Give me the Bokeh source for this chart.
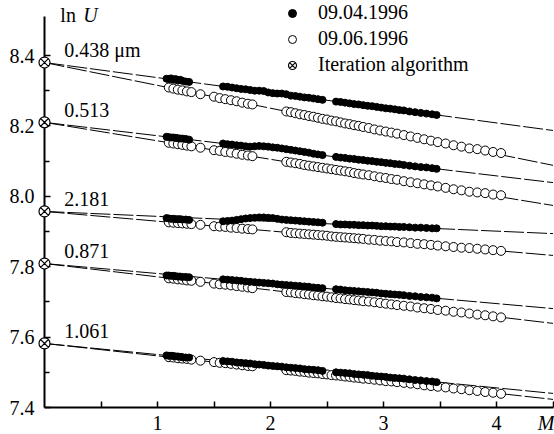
from bokeh.plotting import figure
from bokeh.models import (ColumnDataSource, FixedTicker, PrintfTickFormatter, Label,
                          LabelSet, Legend, LegendItem, Range1d)
from bokeh.core.properties import value
from bokeh.embed import file_html
from bokeh.resources import INLINE

# ---------------- data ----------------
wavelength_labels = ["0.438 \u03bcm", "0.513", "2.181", "0.871", "1.061"]
iteration_lnU = [8.380, 8.210, 7.957, 7.809, 7.582]      # Iteration algorithm (M = 0)
fit_M = [0.0, 4.5]
fit_end_apr = [8.187, 8.039, 7.894, 7.681, 7.440]       # fit line end (09.04.1996)
fit_end_jun = [8.088, 7.974, 7.832, 7.639, 7.423]       # fit line end (09.06.1996)

M_apr = [1.08, 1.10, 1.12, 1.14, 1.16, 1.18, 1.20, 1.22, 1.25, 1.28,
         1.58, 1.62, 1.66, 1.70, 1.74, 1.78, 1.82, 1.86, 1.90, 1.94, 1.98, 2.02, 2.06, 2.10,
         2.14, 2.18, 2.22, 2.26, 2.30, 2.34, 2.38, 2.42, 2.46,
         2.58, 2.62, 2.66, 2.70, 2.74, 2.78, 2.82, 2.86, 2.90, 2.94, 2.98, 3.02, 3.06, 3.10,
         3.14, 3.18, 3.23, 3.28, 3.33, 3.38, 3.43, 3.47]
M_jun = [1.10, 1.14, 1.18, 1.22, 1.26, 1.30, 1.38,
         1.50, 1.55, 1.60, 1.65, 1.70, 1.75, 1.80, 1.84,
         2.14, 2.18, 2.22, 2.26, 2.30, 2.34, 2.38, 2.42, 2.46, 2.50, 2.54, 2.58, 2.62, 2.66,
         2.70, 2.74, 2.78, 2.82, 2.87, 2.92, 2.97, 3.02, 3.07, 3.12, 3.18, 3.24, 3.30, 3.36,
         3.42, 3.48, 3.55, 3.62, 3.69, 3.76, 3.83, 3.90, 3.97, 4.04]

apr_0438 = [8.334, 8.333, 8.335, 8.331, 8.333, 8.329, 8.331, 8.328, 8.326, 8.325,
            8.312, 8.311, 8.309, 8.307, 8.305, 8.304, 8.302, 8.300, 8.300, 8.299, 8.295, 8.293,
            8.292, 8.292, 8.290, 8.286, 8.285, 8.283, 8.281, 8.280, 8.278, 8.276, 8.274,
            8.269, 8.268, 8.266, 8.264, 8.262, 8.261, 8.259, 8.257, 8.256, 8.254, 8.252, 8.250,
            8.249, 8.247, 8.245, 8.244, 8.241, 8.239, 8.237, 8.235, 8.233, 8.231]
jun_0438 = [8.309, 8.306, 8.303, 8.301, 8.298, 8.296, 8.290,
            8.283, 8.279, 8.276, 8.273, 8.270, 8.266, 8.263, 8.261,
            8.241, 8.239, 8.236, 8.233, 8.231, 8.228, 8.226, 8.223, 8.220, 8.218, 8.215, 8.213,
            8.210, 8.207, 8.205, 8.202, 8.200, 8.197, 8.194, 8.190, 8.187, 8.184, 8.181, 8.178,
            8.174, 8.170, 8.166, 8.162, 8.158, 8.154, 8.150, 8.145, 8.141, 8.136, 8.134, 8.130,
            8.126, 8.123]

apr_0513 = [8.169, 8.168, 8.167, 8.167, 8.166, 8.165, 8.164, 8.164, 8.163, 8.161,
            8.150, 8.148, 8.147, 8.145, 8.144, 8.142, 8.141, 8.142, 8.143, 8.142, 8.141, 8.139,
            8.138, 8.136, 8.134, 8.132, 8.130, 8.128, 8.126, 8.124, 8.121, 8.119, 8.117,
            8.112, 8.110, 8.109, 8.107, 8.106, 8.104, 8.103, 8.101, 8.100, 8.098, 8.097, 8.095,
            8.094, 8.092, 8.091, 8.089, 8.087, 8.085, 8.083, 8.082, 8.080, 8.078]
jun_0513 = [8.152, 8.150, 8.148, 8.146, 8.144, 8.142, 8.138,
            8.131, 8.129, 8.126, 8.124, 8.121, 8.118, 8.116, 8.114,
            8.098, 8.096, 8.094, 8.092, 8.089, 8.087, 8.085, 8.083, 8.081, 8.079, 8.077, 8.075,
            8.073, 8.071, 8.069, 8.066, 8.064, 8.062, 8.060, 8.057, 8.054, 8.052, 8.049, 8.047,
            8.043, 8.040, 8.037, 8.034, 8.031, 8.028, 8.024, 8.020, 8.017, 8.013, 8.011, 8.009,
            8.005, 8.003]

apr_2181 = [7.938, 7.937, 7.936, 7.936, 7.935, 7.935, 7.935, 7.934, 7.934, 7.933,
            7.929, 7.930, 7.931, 7.933, 7.935, 7.937, 7.938, 7.939, 7.940, 7.940, 7.939, 7.938,
            7.936, 7.934, 7.933, 7.932, 7.931, 7.930, 7.929, 7.928, 7.927, 7.926, 7.925,
            7.921, 7.920, 7.920, 7.919, 7.919, 7.918, 7.918, 7.917, 7.917, 7.916, 7.915, 7.915,
            7.914, 7.914, 7.913, 7.913, 7.912, 7.911, 7.911, 7.910, 7.909, 7.909]
jun_2181 = [7.926, 7.925, 7.924, 7.923, 7.922, 7.921, 7.919,
            7.915, 7.914, 7.913, 7.911, 7.910, 7.908, 7.907, 7.906,
            7.898, 7.896, 7.895, 7.894, 7.893, 7.892, 7.891, 7.890, 7.889, 7.888, 7.886, 7.885,
            7.884, 7.883, 7.882, 7.881, 7.880, 7.879, 7.877, 7.876, 7.874, 7.873, 7.872, 7.870,
            7.869, 7.867, 7.865, 7.864, 7.862, 7.860, 7.858, 7.856, 7.854, 7.853, 7.851, 7.849,
            7.847, 7.845]

apr_0871 = [7.775, 7.775, 7.774, 7.774, 7.773, 7.772, 7.772, 7.771, 7.771, 7.770,
            7.764, 7.763, 7.762, 7.761, 7.760, 7.758, 7.757, 7.756, 7.755, 7.754, 7.753, 7.752,
            7.750, 7.749, 7.748, 7.747, 7.746, 7.745, 7.744, 7.743, 7.741, 7.740, 7.739,
            7.736, 7.735, 7.733, 7.732, 7.731, 7.730, 7.729, 7.728, 7.727, 7.726, 7.724, 7.723,
            7.722, 7.721, 7.720, 7.719, 7.717, 7.716, 7.714, 7.713, 7.712, 7.710]
jun_0871 = [7.767, 7.766, 7.764, 7.763, 7.761, 7.760, 7.757,
            7.752, 7.750, 7.749, 7.747, 7.745, 7.743, 7.741, 7.739,
            7.728, 7.727, 7.725, 7.724, 7.722, 7.721, 7.719, 7.718, 7.716, 7.715, 7.713, 7.711,
            7.710, 7.708, 7.707, 7.705, 7.704, 7.702, 7.701, 7.699, 7.697, 7.695, 7.693, 7.691,
            7.689, 7.687, 7.684, 7.682, 7.680, 7.677, 7.675, 7.672, 7.670, 7.667, 7.664, 7.662,
            7.659, 7.656]

apr_1061 = [7.548, 7.547, 7.547, 7.546, 7.545, 7.545, 7.544, 7.543, 7.542, 7.542,
            7.532, 7.531, 7.530, 7.528, 7.527, 7.526, 7.525, 7.523, 7.522, 7.521, 7.519, 7.518,
            7.517, 7.516, 7.514, 7.513, 7.512, 7.511, 7.509, 7.508, 7.507, 7.506, 7.504,
            7.500, 7.499, 7.498, 7.497, 7.495, 7.494, 7.493, 7.492, 7.490, 7.489, 7.488, 7.487,
            7.485, 7.484, 7.483, 7.482, 7.480, 7.478, 7.477, 7.475, 7.474, 7.472]
jun_1061 = [7.543, 7.542, 7.540, 7.539, 7.538, 7.536, 7.533,
            7.529, 7.527, 7.526, 7.524, 7.522, 7.520, 7.518, 7.517,
            7.506, 7.505, 7.504, 7.502, 7.501, 7.499, 7.498, 7.497, 7.495, 7.494, 7.492, 7.491,
            7.490, 7.488, 7.487, 7.485, 7.484, 7.482, 7.481, 7.479, 7.477, 7.475, 7.474, 7.472,
            7.470, 7.468, 7.466, 7.463, 7.461, 7.459, 7.457, 7.454, 7.452, 7.449, 7.447, 7.444,
            7.442, 7.439]

y_ticks = [7.4, 7.6, 7.8, 8.0, 8.2, 8.4]
y_minor = [7.5, 7.7, 7.9, 8.1, 8.3]
x_ticks = [1, 2, 3, 4]
x_tick_marks = [0.5, 1, 1.5, 2, 2.5, 3, 3.5, 4, 4.5]

apr_series = [apr_0438, apr_0513, apr_2181, apr_0871, apr_1061]
jun_series = [jun_0438, jun_0513, jun_2181, jun_0871, jun_1061]
for s in apr_series:
    assert len(s) == len(M_apr), len(s)
for s in jun_series:
    assert len(s) == len(M_jun), len(s)

# ---------------- layout constants (pixels) ----------------
W, H = 554, 434
AX_X0, AX_Y0 = 44, 407          # pixel position of M = 0 and lnU = 7.4 (frame left/bottom)
PX_M, PX_U = 113.0, 352.0       # pixels per unit
X_BOUNDS = (0.0, 4.5)
Y_BOUNDS = (7.4, 8.51)

x_end = X_BOUNDS[0] + (W - AX_X0) / PX_M
y_end = Y_BOUNDS[0] + AX_Y0 / PX_U

FONT = "Liberation Serif"
FS = "20px"

p = figure(width=W, height=H, x_range=Range1d(X_BOUNDS[0], x_end),
           y_range=Range1d(Y_BOUNDS[0], y_end),
           output_backend="svg", toolbar_location=None,
           min_border_left=AX_X0, min_border_right=0, min_border_top=0,
           min_border_bottom=H - AX_Y0)
p.outline_line_color = None
p.xgrid.visible = False
p.ygrid.visible = False
p.background_fill_color = "white"
p.border_fill_color = "white"

for ax in (p.xaxis[0], p.yaxis[0]):
    ax.axis_line_width = 2
    ax.axis_line_color = "black"
    ax.major_tick_line_width = 1.5
    ax.minor_tick_line_width = 1.5
    ax.major_tick_in = 6
    ax.major_tick_out = 0
    ax.minor_tick_in = 5
    ax.minor_tick_out = 0
    ax.major_label_text_font = FONT
    ax.major_label_text_font_size = FS
    ax.major_label_text_color = "black"

xa = p.xaxis[0]
ya = p.yaxis[0]
xa.bounds = X_BOUNDS
ya.bounds = Y_BOUNDS

# x axis: tick marks from the axis, numbers drawn below as text (see further down)
xa.ticker = FixedTicker(ticks=[], minor_ticks=x_tick_marks)
xa.minor_tick_in = 6
xa.major_label_standoff = 0

ya.ticker = FixedTicker(ticks=y_ticks, minor_ticks=y_minor)
ya.formatter = PrintfTickFormatter(format="%.1f")
ya.major_label_standoff = 10

# fitted lines
line_xs, line_ys = [], []
for v0, ea, ej in zip(iteration_lnU, fit_end_apr, fit_end_jun):
    line_xs += [fit_M, fit_M]
    line_ys += [[v0, ea], [v0, ej]]
p.multi_line(line_xs, line_ys, line_color="black", line_width=1, line_dash="20 3")

# data points
jun_src = ColumnDataSource(dict(x=M_jun * 5, y=[v for s in jun_series for v in s]))
apr_src = ColumnDataSource(dict(x=M_apr * 5, y=[v for s in apr_series for v in s]))
it_src = ColumnDataSource(dict(x=[0.0] * 5, y=iteration_lnU))

r_jun = p.scatter("x", "y", source=jun_src, marker="circle", size=9, fill_color="white",
                  line_color="black", line_width=1)
r_apr = p.scatter("x", "y", source=apr_src, marker="circle", size=7, fill_color="black",
                  line_color="black", line_width=1)
r_it = p.scatter("x", "y", source=it_src, marker="circle_x", size=11, fill_color="white",
                 line_color="black", line_width=1.2, level="overlay")

# x tick numbers and the x axis title, one text row under the axis
row_y = Y_BOUNDS[0] - 15 / PX_U
xt_src = ColumnDataSource(dict(x=x_ticks, y=[row_y] * len(x_ticks),
                               text=[str(t) for t in x_ticks]))
p.text("x", "y", text="text", source=xt_src, text_font=value(FONT), text_font_size=value(FS),
       text_align="center", text_baseline="middle", text_color="black", level="overlay")
p.text(x=[4.364], y=[row_y], text=["M"], text_font=value(FONT), text_font_size=value(FS),
       text_font_style="italic", text_align="left", text_baseline="middle",
       text_color="black", level="overlay")

# wavelength labels
lab_src = ColumnDataSource(dict(x=[0.175] * 5, y=[v + 0.036 for v in iteration_lnU],
                                text=wavelength_labels))
p.add_layout(LabelSet(x="x", y="y", text="text", source=lab_src, text_font=FONT,
                      text_font_size=FS, text_baseline="middle", text_color="black"))

# y axis title "ln U"
p.add_layout(Label(x=0.14, y=8.514, text="ln", text_font=FONT, text_font_size=FS,
                   text_baseline="middle", text_color="black"))
p.add_layout(Label(x=0.14, x_offset=23, y=8.514, text="U", text_font=FONT,
                   text_font_size=FS, text_font_style="italic", text_baseline="middle",
                   text_color="black"))

legend = Legend(items=[LegendItem(label="09.04.1996", renderers=[r_apr]),
                       LegendItem(label="09.06.1996", renderers=[r_jun]),
                       LegendItem(label="Iteration algorithm", renderers=[r_it])],
                location=(282 - AX_X0, AX_Y0 - 76))
legend.border_line_color = None
legend.background_fill_alpha = 0
legend.padding = 0
legend.margin = 0
legend.spacing = 3
legend.glyph_height = 22
legend.glyph_width = 20
legend.label_height = 22
legend.label_standoff = 16
legend.label_text_font = FONT
legend.label_text_font_size = FS
legend.label_text_color = "black"
p.add_layout(legend)

open("out.html", "w").write(file_html(p, INLINE))
